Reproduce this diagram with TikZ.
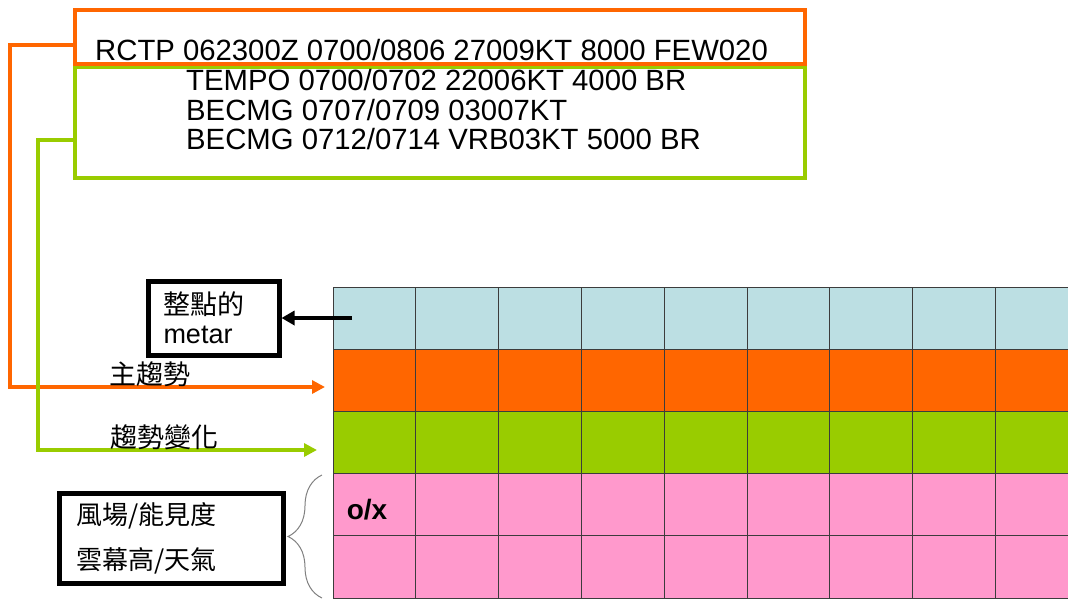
\documentclass[tikz,border=0pt]{standalone}
\usepackage{fontspec}
\setmainfont{Liberation Sans}
\newfontfamily\cjk{Noto Sans CJK TC}
\usetikzlibrary{arrows.meta,decorations.pathreplacing}

\definecolor{taforange}{HTML}{FF6600}
\definecolor{tafgreen}{HTML}{99CC00}
\definecolor{metarblue}{HTML}{BCDFE3}
\definecolor{wxpink}{HTML}{FF99CC}
\definecolor{gridgray}{HTML}{3C3C3C}

\tikzset{
  tafbox/.style={draw,line width=4pt,minimum width=730pt,inner sep=0pt},
  labelbox/.style={draw,line width=5pt,align=left,inner xsep=14pt,inner ysep=0pt},
  flow/.style={line width=4pt,-{Triangle[length=13pt,width=13pt]}},
  cell/.style={draw=gridgray,line width=0.9pt}
}

\begin{document}
\begin{tikzpicture}[x=1pt,y=-1pt]
\useasboundingbox (0,0) rectangle (1068,600);

% the hourly table
\foreach \clr [count=\r from 0] in {metarblue,taforange,tafgreen,wxpink,wxpink}
  \foreach \c in {0,...,8}
    \filldraw[cell,fill=\clr] ({333+82.8*\c},{287+62.2*\r}) rectangle +(82.8,62.2);
\node[font=\bfseries\fontsize{28}{30}\selectfont] (oxmark) at (367,510) {o/x};

% TAF boxes
\node[tafbox,draw=tafgreen,minimum height=111pt] (tafchg) at (440,122.5) {};
\node[tafbox,draw=taforange,minimum height=54pt] (tafmain) at (440,37) {};
\node[anchor=west,inner sep=0pt,font=\fontsize{29.3}{34}\selectfont] (maintext) at (95,50)
  {RCTP 062300Z 0700/0806 27009KT 8000 FEW020};
\node[anchor=west,inner sep=0pt,align=left,font=\fontsize{29.3}{29.5}\selectfont] (chgtext) at (186,110)
  {TEMPO 0700/0702 22006KT 4000 BR\\
   BECMG 0707/0709 03007KT\\
   BECMG 0712/0714 VRB03KT 5000 BR};

% connectors to the table
\coordinate (mainout) at (75,45);
\coordinate (mainin) at (325,387);
\coordinate (chgout) at (75,140);
\coordinate (chgin) at (317,450);
\draw[flow,taforange] (mainout) -- (10,45) |- (mainin);
\draw[flow,tafgreen] (chgout) -- (38,140) |- (chgin);
\node[font=\cjk\fontsize{27}{28}\selectfont] (mainlbl) at (150,374) {主趨勢};
\node[font=\cjk\fontsize{27}{28}\selectfont] (chglbl) at (164,437) {趨勢變化};

% metar box
\node[labelbox,minimum width=131pt,minimum height=74pt,text width=100pt,
  font=\fontsize{27}{29}\selectfont] (metarbox) at (213.5,318) {{\cjk 整點的}\\metar};
\coordinate (metarsrc) at (352,318);
\draw[line width=4pt,-{Triangle[length=13pt,width=14pt]}] (metarsrc) -- (metarbox.east);

% weather box and brace
\node[labelbox,minimum width=224pt,minimum height=90pt,text width=190pt,inner xsep=16pt,
  font=\cjk\fontsize{26}{45}\selectfont] (wxbox) at (171,538) {風場/能見度\\雲幕高/天氣};
\draw[decorate,decoration={brace,amplitude=34pt},gray,line width=1pt] (322,598) -- (322,475);
\end{tikzpicture}
\end{document}
